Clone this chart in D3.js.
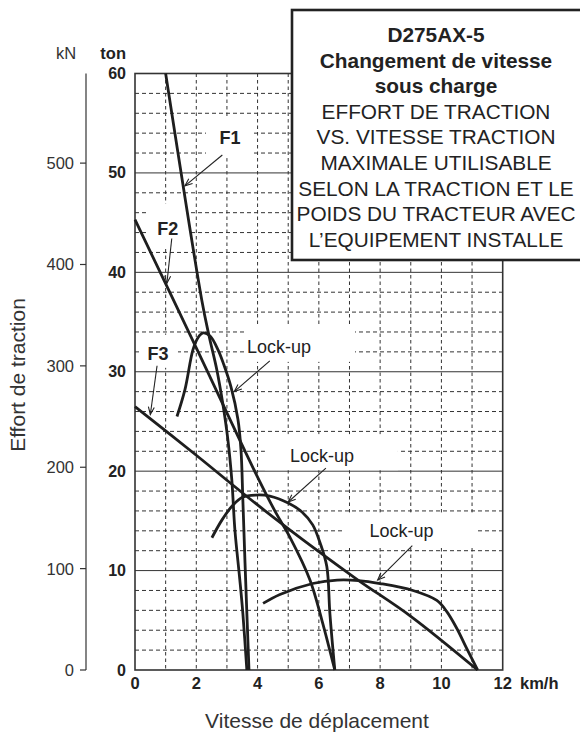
<!DOCTYPE html>
<html><head><meta charset="utf-8">
<script src="https://cdn.jsdelivr.net/npm/d3@7"></script>
<style>
html,body{margin:0;padding:0;background:#fff;}
svg{display:block;font-family:"Liberation Sans",Arial,Helvetica,sans-serif;}
</style></head>
<body>
<svg id="chart" width="580" height="733"></svg>
<script>
// ---- data (speed km/h, tractive effort ton) ----
const xTicks = [0, 2, 4, 6, 8, 10, 12];
const tonTicks = [0, 10, 20, 30, 40, 50, 60];
const kNTicks = [0, 100, 200, 300, 400, 500];
const titleLines = ["D275AX-5", "Changement de vitesse", "sous charge", "EFFORT DE TRACTION", "VS. VITESSE TRACTION", "MAXIMALE UTILISABLE", "SELON LA TRACTION ET LE", "POIDS DU TRACTEUR AVEC", "L’EQUIPEMENT INSTALLE"];
const titleBold = [true, true, true, false, false, false, false, false, false];

const f1Converter = [[1.0,60],[2.18,37.2],[2.41,33.7],[2.67,30.2],[2.87,26.7],[3.03,23.2],[3.16,19.1],[3.26,14.1],[3.42,9.1],[3.52,5.7],[3.65,0]];
const f1Lockup = [[1.37,25.5],[1.63,28.2],[1.89,32.2],[2.05,33.4],[2.22,33.9],[2.45,33.6],[2.71,32.2],[2.90,30.7],[3.13,28.5],[3.36,25.2],[3.46,22.1],[3.52,17.1],[3.59,10.8],[3.72,0]];
const f2Converter = [[0,45.3],[2.0,32.4],[4.0,19.4],[4.6,15.8],[5.05,13.4],[5.71,9.06],[6.1,5.0],[6.52,0]];
const f2Lockup = [[2.51,13.3],[2.84,15.1],[3.20,16.6],[3.52,17.4],[3.95,17.6],[4.40,17.5],[5.0,16.8],[5.45,15.9],[5.8,14.6],[6.05,12.7],[6.26,10.4],[6.36,5.7],[6.52,0]];
const f3Converter = [[0,26.5],[2.0,21.6],[4.0,16.6],[6.0,11.9],[7.3,9.0],[9.0,5.4],[11.18,0]];
const f3Lockup = [[4.18,6.7],[4.73,7.6],[5.8,8.7],[6.6,9.05],[7.3,9.0],[8.0,8.7],[9.07,8.0],[9.85,7.0],[10.17,5.9],[10.5,4.2],[10.82,2.2],[11.18,0]];
const curves = [f1Converter, f1Lockup, f2Converter, f2Lockup, f3Converter, f3Lockup];

const labels = [
  {text:"F1", bold:true, x:3.1, y:52.9, tip:[1.63,48.7], tail:[2.85,51.8], box:[-24,-26,24,14]},
  {text:"F2", bold:true, x:1.07, y:43.8, tip:[1.04,38.9], tail:[1.2,43.4], box:[-21,-31,22,13]},
  {text:"F3", bold:true, x:0.75, y:31.2, tip:[0.5,25.7], tail:[0.72,30.6], box:[-18,-25,20,8]},
  {text:"Lock-up", bold:false, x:4.7, y:31.9, tip:[3.24,28.0], tail:[4.4,31.1], box:[-35,-28,76,9]},
  {text:"Lock-up", bold:false, x:6.1, y:20.9, tip:[5.0,16.9], tail:[6.23,20.3], box:[-57,-28,76,8]},
  {text:"Lock-up", bold:false, x:8.7, y:13.4, tip:[7.92,9.05], tail:[9.05,12.5], box:[-57,-24,76,11]}
];

const svg = d3.select("#chart");
const x = d3.scaleLinear().domain([0,12]).range([135,502.7]);
const y = d3.scaleLinear().domain([0,60]).range([670,73.5]);
const KN_PER_TON = 9.80665;

// grid
const g = svg.append("g");
d3.range(1,12).forEach(v => {
  g.append("line").attr("x1",x(v)).attr("x2",x(v)).attr("y1",y(60)).attr("y2",y(0))
   .attr("stroke","#333").attr("stroke-width",1).attr("stroke-dasharray","3.5,3");
});
d3.range(2,60,2).forEach(v => {
  const solid = v % 10 === 0;
  g.append("line").attr("x1",x(0)).attr("x2",x(12)).attr("y1",y(v)).attr("y2",y(v))
   .attr("stroke","#333").attr("stroke-width",1)
   .attr("stroke-dasharray", solid ? null : "4,3");
});

// white label backgrounds
labels.forEach(l => {
  const b = l.box;
  svg.append("rect").attr("x",x(l.x)+b[0]).attr("y",y(l.y)+b[1])
    .attr("width",b[2]-b[0]).attr("height",b[3]-b[1]).attr("fill","#fff");
});

// frame
svg.append("rect").attr("x",x(0)).attr("y",y(60)).attr("width",x(12)-x(0)).attr("height",y(0)-y(60))
  .attr("fill","none").attr("stroke","#333").attr("stroke-width",1.6);

// curves
const line = d3.line().x(d=>x(d[0])).y(d=>y(d[1])).curve(d3.curveCatmullRom.alpha(0.5));
curves.forEach(c => {
  svg.append("path").attr("d",line(c)).attr("fill","none").attr("stroke","#1e1e1e")
    .attr("stroke-width",2.8).attr("stroke-linejoin","round").attr("stroke-linecap","butt");
});

// arrows + labels
labels.forEach(l => {
  const x1=x(l.tail[0]), y1=y(l.tail[1]), x2=x(l.tip[0]), y2=y(l.tip[1]);
  svg.append("line").attr("x1",x1).attr("y1",y1).attr("x2",x2).attr("y2",y2)
    .attr("stroke","#222").attr("stroke-width",1.1);
  const ang = Math.atan2(y2-y1, x2-x1), L=8, w=0.38;
  const p = [[x2 - L*Math.cos(ang-w), y2 - L*Math.sin(ang-w)],[x2,y2],[x2 - L*Math.cos(ang+w), y2 - L*Math.sin(ang+w)]];
  svg.append("path").attr("d","M"+p.map(q=>q.join(",")).join("L")).attr("fill","none")
    .attr("stroke","#222").attr("stroke-width",1.1);
  svg.append("text").attr("x",x(l.x)).attr("y",y(l.y)).attr("text-anchor","middle")
    .attr("font-size",18).attr("font-weight", l.bold ? "bold" : "normal")
    .attr("fill","#222").text(l.text);
});

// ton axis labels
tonTicks.forEach(v => {
  svg.append("text").attr("x",126).attr("y",y(v)+5.5).attr("text-anchor","end")
    .attr("font-size",16).attr("font-weight","bold").attr("fill","#222").text(v);
});
svg.append("text").attr("x",126).attr("y",59).attr("text-anchor","end")
  .attr("font-size",16.5).attr("font-weight","bold").attr("fill","#222").text("ton");

// kN axis
const ky = v => y(v / KN_PER_TON);
svg.append("line").attr("x1",86).attr("x2",86).attr("y1",y(60)).attr("y2",y(0))
  .attr("stroke","#333").attr("stroke-width",1.2);
kNTicks.forEach(v => {
  svg.append("line").attr("x1",80).attr("x2",86).attr("y1",ky(v)).attr("y2",ky(v))
    .attr("stroke","#333").attr("stroke-width",1.2);
  svg.append("text").attr("x",74).attr("y",ky(v)+6).attr("text-anchor","end")
    .attr("font-size",16.5).attr("fill","#333").text(v);
});
svg.append("text").attr("x",66).attr("y",59).attr("text-anchor","middle")
  .attr("font-size",16.5).attr("fill","#333").text("kN");

// x axis labels
xTicks.forEach(v => {
  svg.append("text").attr("x",x(v)).attr("y",689).attr("text-anchor","middle")
    .attr("font-size",16.5).attr("font-weight","bold").attr("fill","#222").text(v);
});
svg.append("text").attr("x",520).attr("y",689).attr("text-anchor","start")
  .attr("font-size",16.5).attr("font-weight","bold").attr("fill","#222").text("km/h");

// axis titles
svg.append("text").attr("x",317).attr("y",728).attr("text-anchor","middle")
  .attr("font-size",21).attr("fill","#333").text("Vitesse de déplacement");
svg.append("text").attr("transform","translate(25,375) rotate(-90)").attr("text-anchor","middle")
  .attr("font-size",21).attr("fill","#333").text("Effort de traction");

// title box
svg.append("rect").attr("x",292).attr("y",10).attr("width",300).attr("height",250)
  .attr("fill","#fff").attr("stroke","#222").attr("stroke-width",2.6);
titleLines.forEach((t,i) => {
  svg.append("text").attr("x",436).attr("y",42 + i*25.6).attr("text-anchor","middle")
    .attr("font-size",20.8).attr("font-weight", titleBold[i] ? "bold" : "normal")
    .attr("fill","#222").text(t);
});
</script>
</body></html>
